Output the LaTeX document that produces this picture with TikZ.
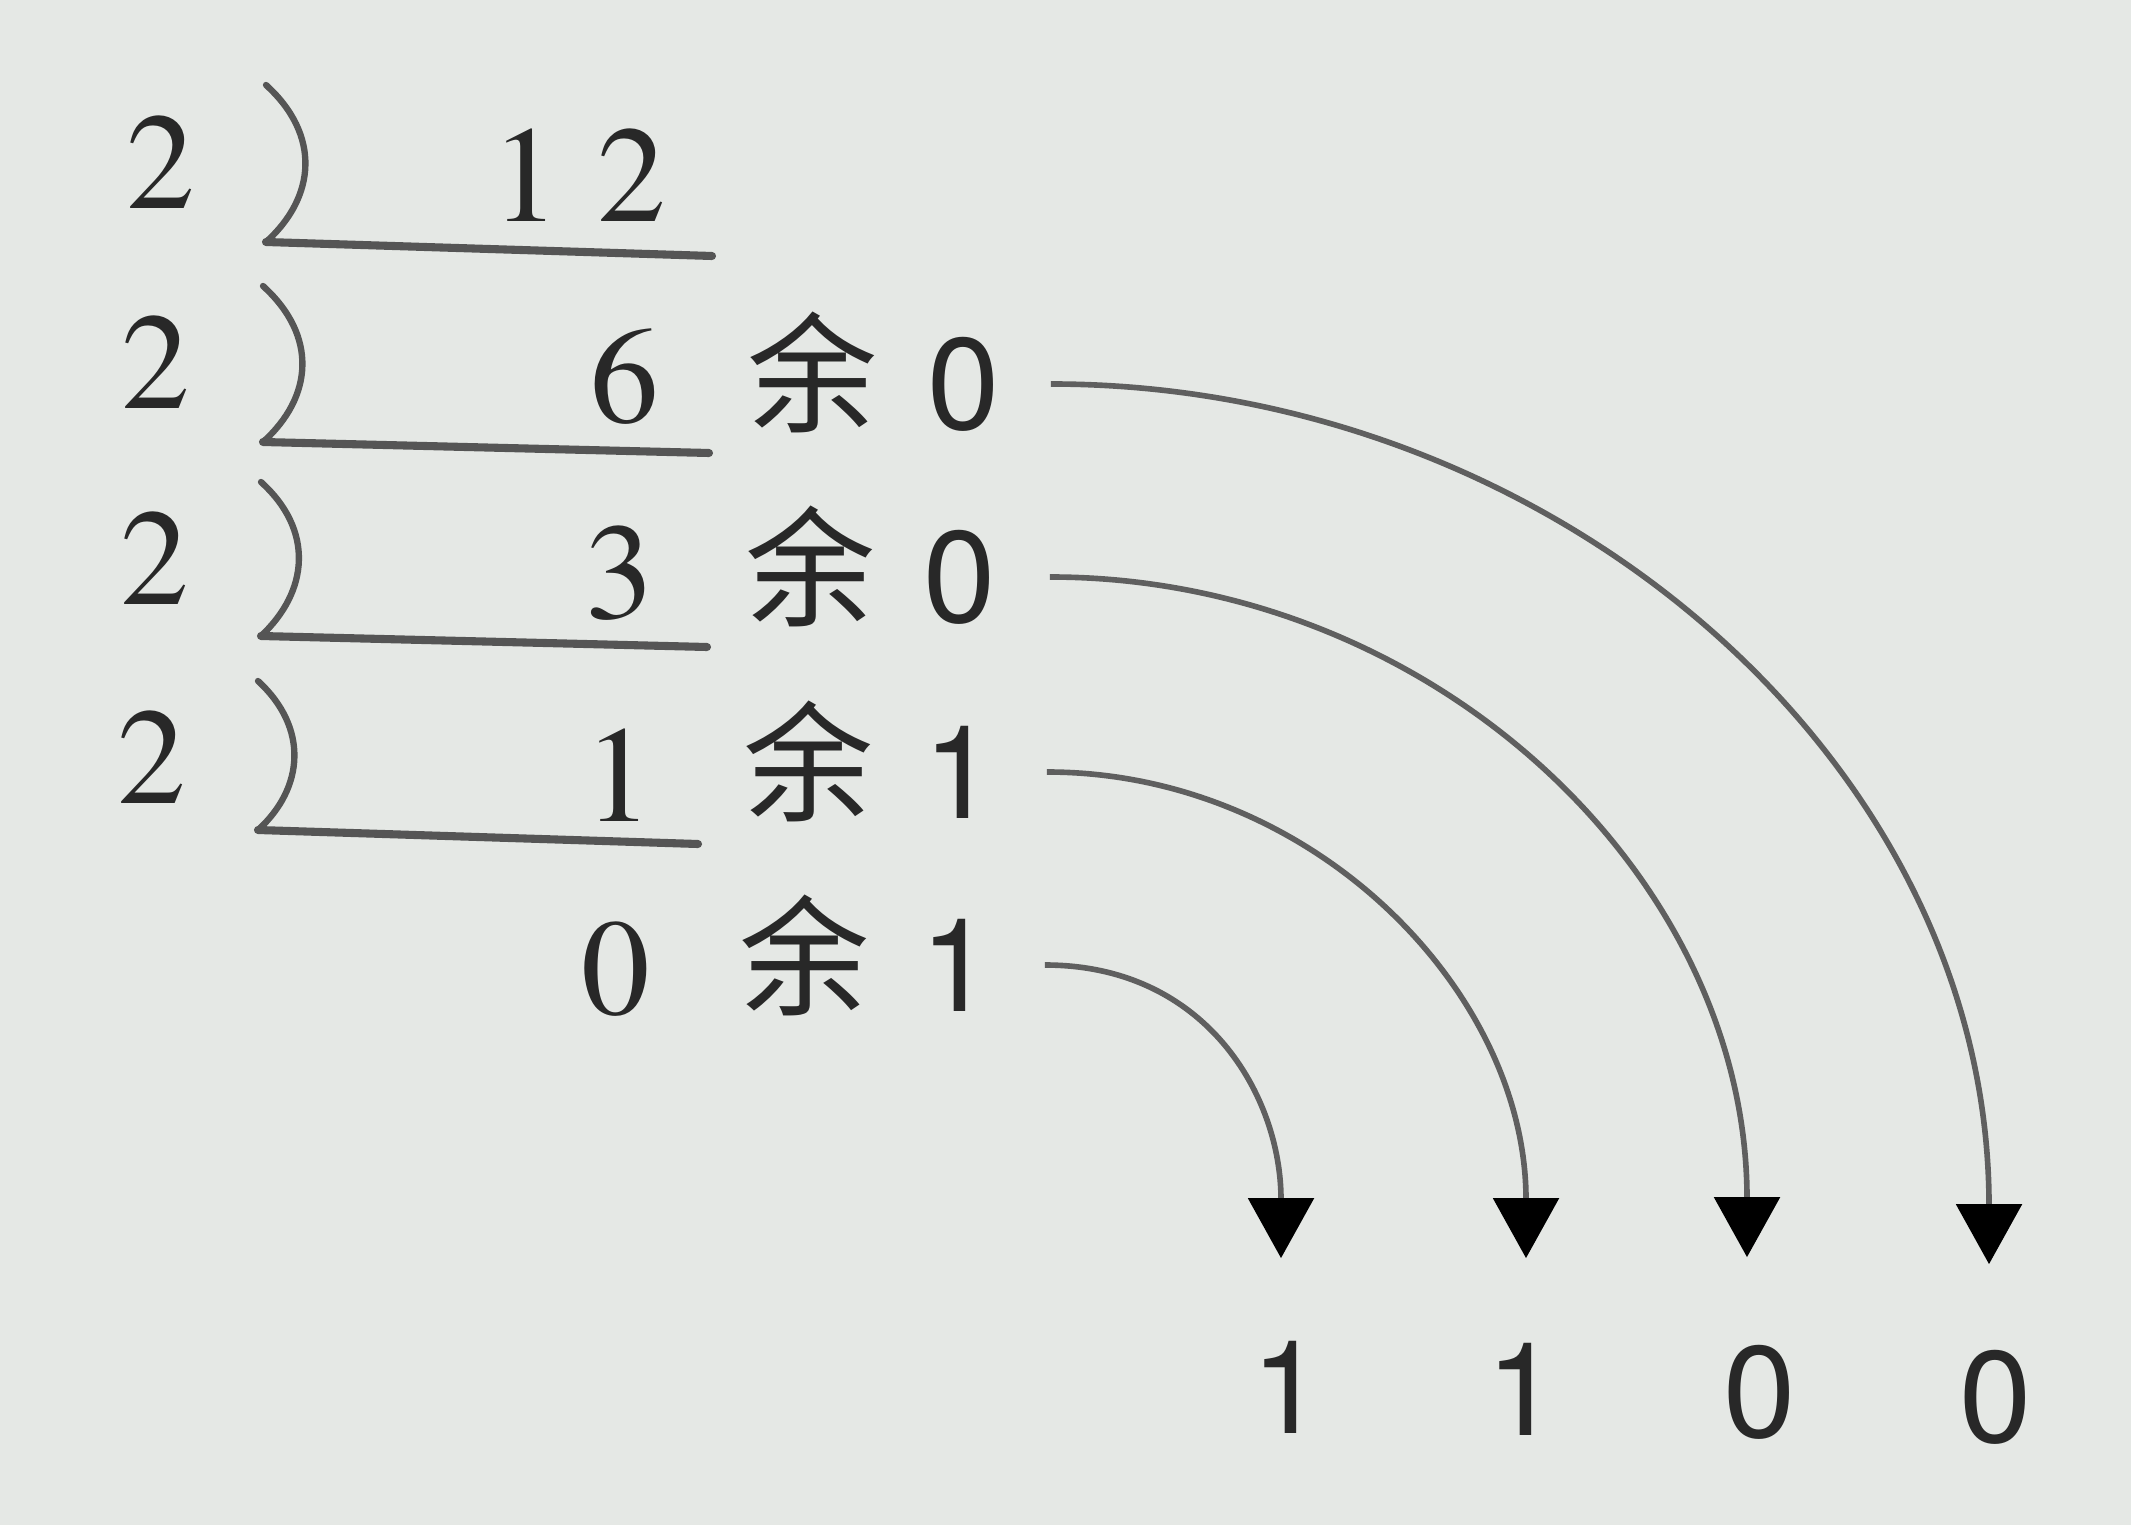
\documentclass[tikz,border=0pt]{standalone}
\usepackage{fontspec}
\newfontfamily\serifdig{TeX Gyre Termes}
\newfontfamily\sansdig{TeX Gyre Heros}
\newfontfamily\cjk{Noto Sans CJK SC}
\usetikzlibrary{arrows.meta}
\definecolor{paper}{RGB}{229,232,229}
\definecolor{ink}{RGB}{40,40,40}
\definecolor{rulec}{RGB}{85,85,85}
\definecolor{curvec}{RGB}{95,95,95}
\tikzset{
  serifnum/.style={inner sep=0pt, text=ink, font=\serifdig\fontsize{39pt}{40pt}\selectfont},
  sansnum/.style={inner sep=0pt, text=ink, font=\sansdig\fontsize{37pt}{38pt}\selectfont},
  yu/.style={inner sep=0pt, text=ink, font=\cjk\fontsize{37pt}{38pt}\selectfont},
  divline/.style={draw=rulec, line width=2.3pt, line cap=round},
  bracket/.style={draw=rulec, line width=1.8pt, line cap=round},
  conn/.style={draw=curvec, line width=1.6pt, -{Triangle[width=6.5mm,length=6mm,color=black]}},
}
\begin{document}
\begin{tikzpicture}[x=0.01cm,y=-0.01cm]
\fill[paper] (0,0) rectangle (2131,1525);
\useasboundingbox (0,0) rectangle (2131,1525);

% row 1
\node[serifnum] (d1) at (161,162) {2};
\node[serifnum] (q1) at (579,175) {1\kern0.27em2};
% row 2
\node[serifnum] (d2) at (156,362) {2};
\node[serifnum] (q2) at (625,377) {6};
\node[yu] (y2) at (813,372) {余};
\node[sansnum] (r2) at (964,384) {0};
% row 3
\node[serifnum] (d3) at (155,558) {2};
\node[serifnum] (q3) at (620,573) {3};
\node[yu] (y3) at (811,566) {余};
\node[sansnum] (r3) at (960,577) {0};
% row 4
\node[serifnum] (d4) at (152,757) {2};
\node[serifnum] (q4) at (619,775) {1};
\node[yu] (y4) at (809,761) {余};
\node[sansnum] (r4) at (960,772) {1};
% row 5
\node[serifnum] (q5) at (616,969) {0};
\node[yu] (y5) at (805,955) {余};
\node[sansnum] (r5) at (957,965) {1};
% result digits
\node[sansnum] (b1) at (1288,1387) {1};
\node[sansnum] (b2) at (1523,1389) {1};
\node[sansnum] (b3) at (1760,1392) {0};
\node[sansnum] (b4) at (1996,1397) {0};

% division brackets
\draw[bracket] (266,85) .. controls (321,135) and (316,197) .. (266,242);
\draw[divline] (266,242) -- (712,256);
\draw[bracket] (263,286) .. controls (318,336) and (313,397) .. (263,442);
\draw[divline] (263,442) -- (709,453);
\draw[bracket] (261,482) .. controls (314,530) and (309,591) .. (261,636);
\draw[divline] (261,636) -- (707,647);
\draw[bracket] (258,681) .. controls (309,728) and (304,788) .. (258,830);
\draw[divline] (258,830) -- (698,844);

% connectors
\draw[conn] ([xshift=5mm]r2.east) to[out=0,in=90] ([xshift=-0.7mm,yshift=8.5mm]b4.north);
\draw[conn] ([xshift=5.3mm]r3.east) to[out=0,in=90] ([xshift=-1.3mm,yshift=8.7mm]b3.north);
\draw[conn] ([xshift=5mm]r4.east) to[out=0,in=90] ([xshift=0.3mm,yshift=8.4mm]b2.north);
\draw[conn] ([xshift=5.1mm]r5.east) to[out=0,in=90,looseness=1.1] ([xshift=-0.7mm,yshift=8.2mm]b1.north);
\end{tikzpicture}
\end{document}
